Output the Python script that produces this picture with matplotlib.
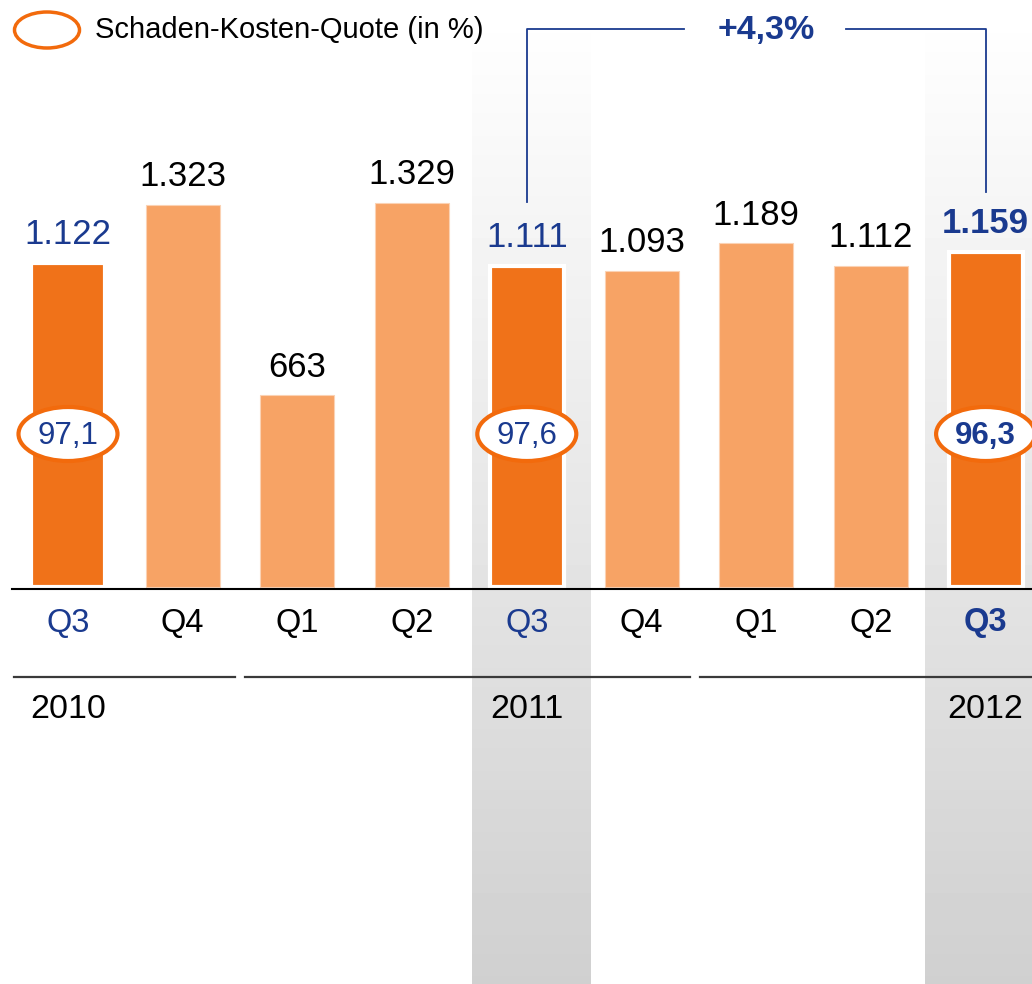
import matplotlib.pyplot as plt
from matplotlib.patches import Ellipse
import numpy as np

plt.rcParams['font.family'] = ['Liberation Sans', 'DejaVu Sans']

# data
quarters = ['Q3', 'Q4', 'Q1', 'Q2', 'Q3', 'Q4', 'Q1', 'Q2', 'Q3']
values = [1122, 1323, 663, 1329, 1111, 1093, 1189, 1112, 1159]
value_labels = ['1.122', '1.323', '663', '1.329', '1.111', '1.093', '1.189', '1.112', '1.159']
highlight = [True, False, False, False, True, False, False, False, True]
combined_ratio = {0: '97,1', 4: '97,6', 8: '96,3'}
years = {0: '2010', 4: '2011', 8: '2012'}
change_label = '+4,3%'
legend_label = 'Schaden-Kosten-Quote (in %)'

DARK = '#f07219'
LIGHT = '#f7a365'
BLUE = '#1a3a8f'

W, H = 1032, 984
fig = plt.figure(figsize=(W / 100, H / 100), dpi=100)
ax = fig.add_axes([0, 0, 1, 1])

# pixel layout -> data units
step = 114.7          # px per bar slot
x0_px = 68            # center of first bar
base_px = 587         # baseline
scale = 0.289         # px per value unit


def xd(px):
    return (px - x0_px) / step


def yd(py):
    return (base_px - py) / scale


ax.set_xlim(xd(0), xd(W))
ax.set_ylim(yd(H), yd(0))
ax.axis('off')

# grey gradient columns behind the current quarters
grad = np.linspace(1.0, 0.815, 256).reshape(-1, 1)
for lo, hi in [(472, 590), (925, W)]:
    ax.imshow(grad, cmap='gray', vmin=0, vmax=1, aspect='auto',
              extent=(xd(lo), xd(hi), yd(H), yd(10)), zorder=0)

x = np.arange(len(values))
colors = [DARK if h else LIGHT for h in highlight]
edges = ['white' if h else '#fbd2b4' for h in highlight]
lws = [3 if h else 0.8 for h in highlight]
ax.bar(x, values, width=74 / step, color=colors, edgecolor=edges, linewidth=lws, zorder=2)

# baseline
ax.plot([xd(12), xd(W)], [yd(589), yd(589)], color='black', lw=1.5, zorder=3)

# value labels above bars
for i, (v, lab) in enumerate(zip(values, value_labels)):
    ax.annotate(lab, (i, v), xytext=(0, 13.5), textcoords='offset points',
                ha='center', va='baseline', fontsize=25,
                color=BLUE if highlight[i] else 'black',
                fontweight='bold' if i == 8 else 'normal', zorder=4)

# combined ratio ellipses
for i, lab in combined_ratio.items():
    ax.add_patch(Ellipse((i, yd(434)), 99 / step, 54 / scale, facecolor='white',
                         edgecolor='#f26a0c', lw=3, zorder=5))
    ax.text(i, yd(436), lab, ha='center', va='center', fontsize=22.5, color=BLUE,
            fontweight='bold' if i == 8 else 'normal', zorder=6)

# quarter labels
for i, q in enumerate(quarters):
    ax.text(i, yd(623), q, ha='center', va='center', fontsize=23.5,
            color=BLUE if highlight[i] else 'black',
            fontweight='bold' if i == 8 else 'normal', zorder=4)

# year separators and labels
for lo, hi in [(14, 235), (245, 690), (700, W)]:
    ax.plot([xd(lo), xd(hi)], [yd(677), yd(677)], color='#3a3a3a', lw=1.6, zorder=3)
for i, y in years.items():
    ax.text(i, yd(709), y, ha='center', va='center', fontsize=24.5, color='black', zorder=4)

# bracket with change
yb = yd(29)
ax.plot([4, 4, xd(684)], [yd(202), yb, yb], color=BLUE, lw=1.3, zorder=4)
ax.plot([xd(846), 8, 8], [yb, yb, yd(192)], color=BLUE, lw=1.3, zorder=4)
ax.text(xd(766), yd(30), change_label, ha='center', va='center', fontsize=24.5,
        fontweight='bold', color=BLUE, zorder=4)

# legend
ax.add_patch(Ellipse((xd(47), yd(30)), 65 / step, 36 / scale, facecolor='white',
                     edgecolor='#f26a0c', lw=2.5, zorder=5))
ax.text(xd(95), yd(30), legend_label, ha='left', va='center', fontsize=21,
        color='black', zorder=5)

fig.savefig('out.png', dpi=100)
